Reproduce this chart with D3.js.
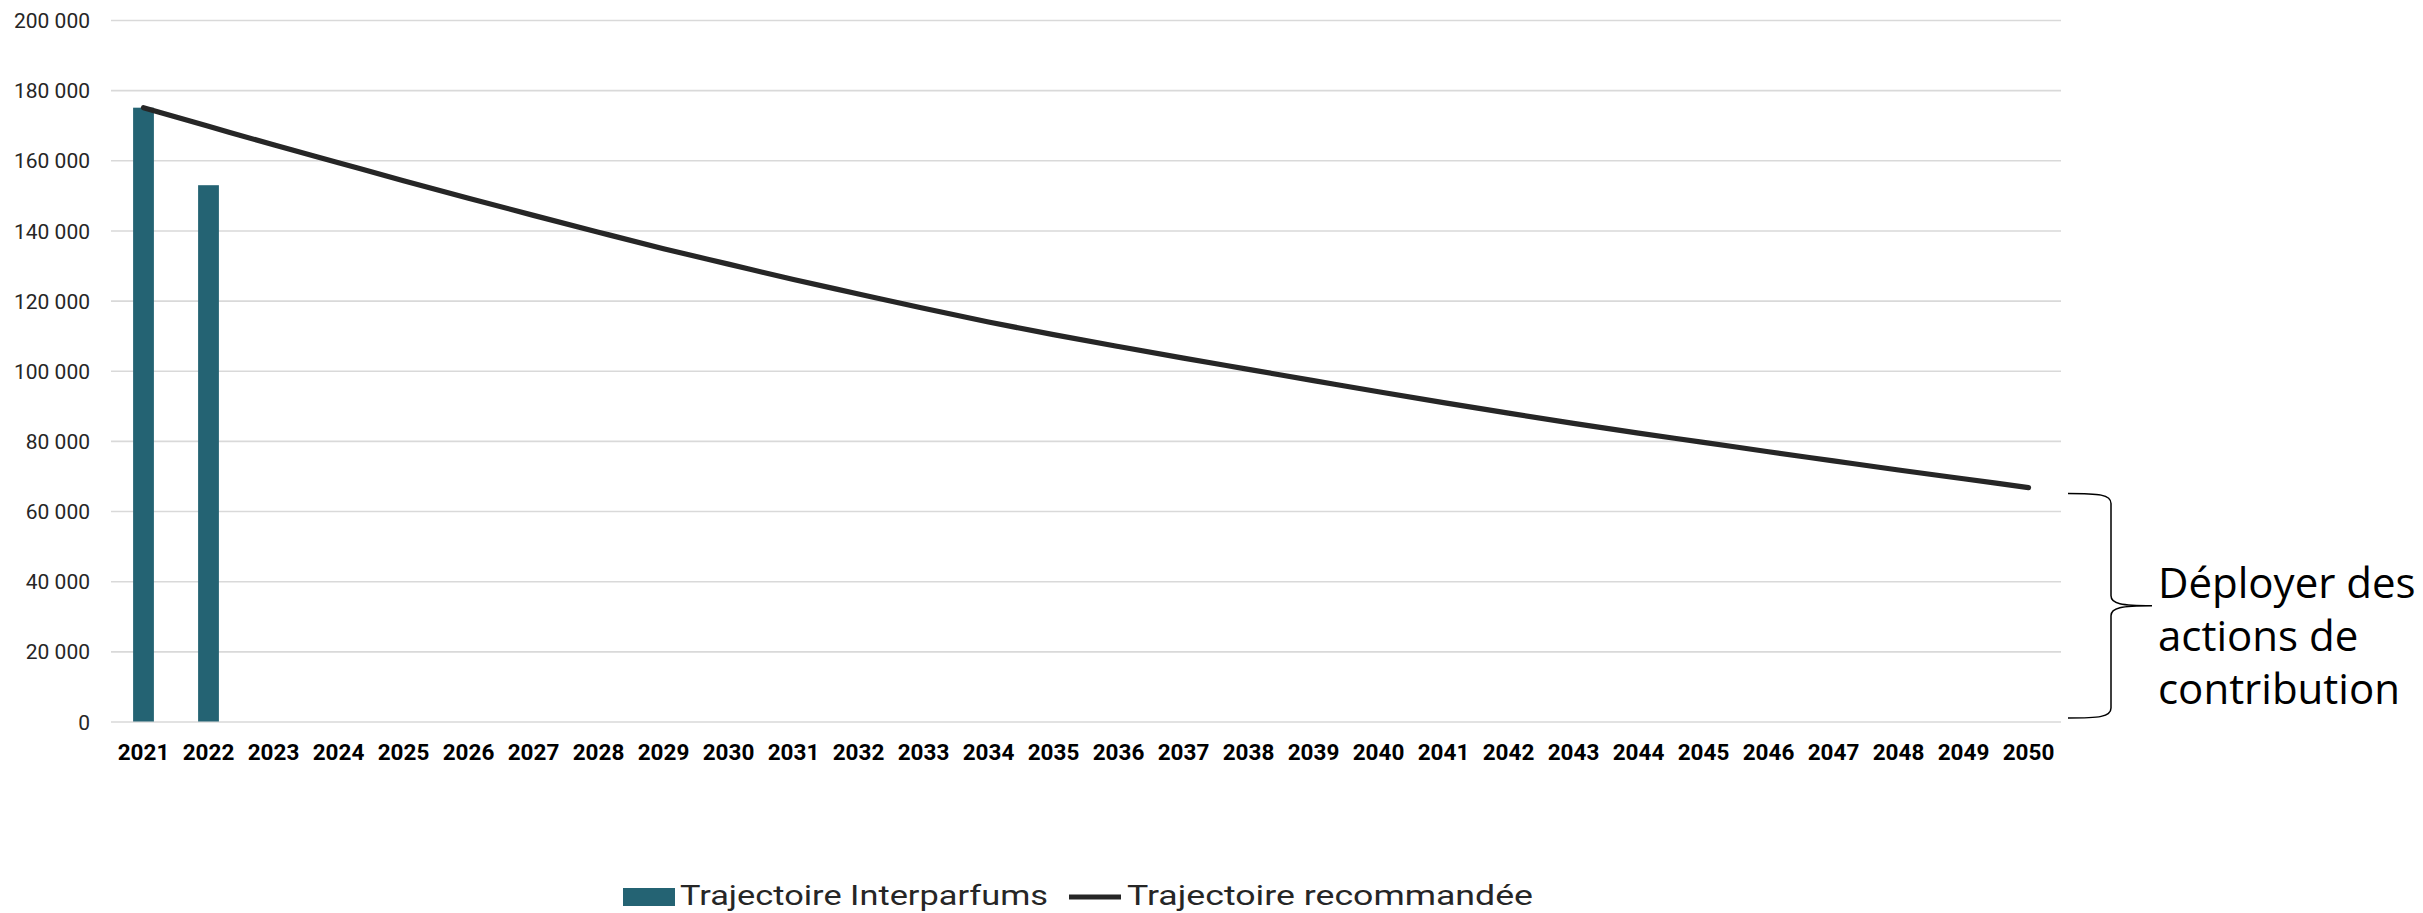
<!DOCTYPE html>
<html>
<head>
<meta charset="utf-8">
<script src="https://cdn.jsdelivr.net/npm/d3@7"></script>
<style>
  html, body { margin: 0; padding: 0; background: #ffffff; }
  svg { display: block; }
</style>
</head>
<body>
<svg id="chart" width="2423" height="913"></svg>
<script>
// ---- data ----
const years = ["2021","2022","2023","2024","2025","2026","2027","2028","2029","2030",
               "2031","2032","2033","2034","2035","2036","2037","2038","2039","2040",
               "2041","2042","2043","2044","2045","2046","2047","2048","2049","2050"];
const barYears = ["2021", "2022"];
const barValues = [175000, 152900];
const lineValues = [175000, 169700, 164400, 159300, 154200, 149200, 144300, 139500, 134800, 130400,
                    126000, 121900, 117800, 113900, 110300, 106900, 103600, 100400, 97200, 94000,
                    90900, 87900, 85000, 82200, 79600, 76900, 74300, 71700, 69200, 66700];
const yTicks = [0, 20000, 40000, 60000, 80000, 100000, 120000, 140000, 160000, 180000, 200000];
const seriesNames = ["Trajectoire Interparfums", "Trajectoire recommandée"];
const annotationLines = ["Déployer des", "actions de", "contribution"];
const braceRange = [65000, 1000];

// ---- layout ----
const svg = d3.select("#chart");
const W = 2423, H = 913;
const plotLeft = 111, plotRight = 2061, plotTop = 20, plotBottom = 721.5;
const barColor = "#246373";
const lineColor = "#262626";
const gridColor = "#d9d9d9";
const textColor = "#262626";

svg.append("rect").attr("width", W).attr("height", H).attr("fill", "#ffffff");

const x = d3.scaleBand().domain(years).range([plotLeft, plotRight]).paddingInner(0.68).paddingOuter(0.34);
const y = d3.scaleLinear().domain([0, 200000]).range([plotBottom, plotTop]);

const locale = d3.formatLocale({decimal: ",", thousands: " ", grouping: [3], currency: ["", " €"]});
const fmt = locale.format(",d");

// y axis with gridlines
const yAxis = svg.append("g")
  .attr("transform", `translate(${plotLeft},0)`)
  .call(d3.axisLeft(y).tickValues(yTicks).tickSize(-(plotRight - plotLeft)).tickPadding(21).tickFormat(fmt));
yAxis.select(".domain").remove();
yAxis.selectAll(".tick line").attr("stroke", gridColor).attr("stroke-width", 1.6);
yAxis.selectAll(".tick text")
  .attr("fill", textColor)
  .attr("font-family", "Roboto, 'DejaVu Sans', sans-serif")
  .attr("font-size", 21)
  .attr("dy", "0.36em");

// x axis
const xAxis = svg.append("g")
  .attr("transform", `translate(0,${plotBottom})`)
  .call(d3.axisBottom(x).tickSize(0).tickPadding(23));
xAxis.select(".domain").remove();
xAxis.selectAll(".tick text")
  .attr("fill", "#000000")
  .attr("font-family", "Roboto, 'DejaVu Sans', sans-serif")
  .attr("font-weight", 700)
  .attr("font-size", 22.5);

// bars
const barData = barYears.map((yr, i) => ({year: yr, value: barValues[i]}));
svg.append("g").selectAll("rect")
  .data(barData)
  .join("rect")
  .attr("x", d => x(d.year))
  .attr("width", x.bandwidth())
  .attr("y", d => y(d.value))
  .attr("height", d => y(0) - y(d.value))
  .attr("fill", barColor);

// line
const lineData = years.map((yr, i) => ({year: yr, value: lineValues[i]}));
const line = d3.line()
  .x(d => x(d.year) + x.bandwidth() / 2)
  .y(d => y(d.value))
  .curve(d3.curveMonotoneX);
svg.append("path")
  .datum(lineData)
  .attr("d", line)
  .attr("fill", "none")
  .attr("stroke", lineColor)
  .attr("stroke-width", 5.2)
  .attr("stroke-linecap", "round")
  .attr("stroke-linejoin", "round");

// brace annotation
const bTop = y(braceRange[0]), bBot = y(braceRange[1]);
const bMid = (bTop + bBot) / 2;
const xl = plotRight + 7, xv = plotRight + 50, xt = plotRight + 91;
const bp = d3.path();
bp.moveTo(xl, bTop);
bp.bezierCurveTo(xv - 12, bTop, xv, bTop + 1, xv, bTop + 10);
bp.lineTo(xv, bMid - 10);
bp.bezierCurveTo(xv, bMid - 2, xv + 10, bMid, xt, bMid);
bp.bezierCurveTo(xv + 10, bMid, xv, bMid + 2, xv, bMid + 10);
bp.lineTo(xv, bBot - 10);
bp.bezierCurveTo(xv, bBot - 1, xv - 12, bBot, xl, bBot);
svg.append("path")
  .attr("d", bp.toString())
  .attr("fill", "none")
  .attr("stroke", "#000000")
  .attr("stroke-width", 1.5);

const ann = svg.append("text")
  .attr("font-family", "'Open Sans', 'Noto Sans', sans-serif")
  .attr("font-size", 42)
  .attr("fill", "#000000");
annotationLines.forEach((t, i) => {
  ann.append("tspan")
    .attr("x", plotRight + 97)
    .attr("y", bMid - 8 + i * 53)
    .text(t);
});

// legend
const legY = 897;
const leg = svg.append("g").attr("font-family", "Roboto, 'DejaVu Sans', sans-serif").attr("font-size", 27.5).attr("fill", textColor);
leg.append("rect").attr("x", 623).attr("y", legY - 9).attr("width", 52).attr("height", 18).attr("fill", barColor);
leg.append("text").attr("x", 680).attr("y", legY + 8).attr("textLength", 368).attr("lengthAdjust", "spacingAndGlyphs").text(seriesNames[0]);
leg.append("line").attr("x1", 1069).attr("x2", 1121).attr("y1", legY).attr("y2", legY)
  .attr("stroke", lineColor).attr("stroke-width", 5.2);
leg.append("text").attr("x", 1127).attr("y", legY + 8).attr("textLength", 406).attr("lengthAdjust", "spacingAndGlyphs").text(seriesNames[1]);
</script>
</body>
</html>
